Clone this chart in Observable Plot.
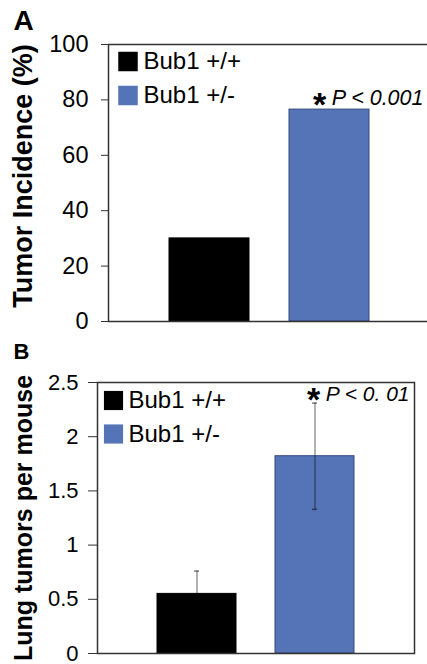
<!DOCTYPE html>
<html><head><meta charset="utf-8">
<script src="https://cdn.jsdelivr.net/npm/d3@7"></script>
<script src="https://cdn.jsdelivr.net/npm/@observablehq/plot@0.6"></script>
<style>
body{margin:0;background:#fff;}
#chart{width:427px;height:664px;overflow:hidden;}
#chart svg{display:block;}
</style></head><body><div id="chart"></div>
<script>
const genotypes = ["Bub1 +/+", "Bub1 +/-"];
const barColors = ["#000000", "#5573b7"];
const barStrokes = ["#000000", "#34487e"];
const tumorIncidence = [30, 76.5];
const lungTumors = [0.55, 1.82];
const lungTumorsErr = [0.21, 0.49];
const incidenceTicks = [0, 20, 40, 60, 80, 100];
const lungTicks = [0, 0.5, 1, 1.5, 2, 2.5];
const panelLabels = ["A", "B"];
const yLabels = ["Tumor Incidence (%)", "Lung tumors per mouse"];
const pValues = ["P < 0.001", "P < 0. 01"];

const font = "'Liberation Sans', Arial, sans-serif";
const ink = "#333";

function panel(cfg) {
  const data = genotypes.map((g, i) => ({
    genotype: g, value: cfg.values[i], err: cfg.errs ? cfg.errs[i] : 0,
    fill: barColors[i], stroke: barStrokes[i]
  }));
  const marks = [
    Plot.barY(data, {x: "genotype", y: "value", fill: "fill", stroke: "stroke", strokeWidth: 1}),
  ];
  if (cfg.errs) {
    marks.push(
      Plot.ruleX(data, {x: "genotype", y1: d => d.value - d.err, y2: d => d.value + d.err, stroke: "#000", strokeOpacity: 0.5, strokeWidth: 1.2}),
      Plot.tickY(data, {x: "genotype", y: d => d.value + d.err, insetLeft: 37, insetRight: 37, stroke: "#000", strokeOpacity: 0.5, strokeWidth: 1.5}),
      Plot.tickY(data, {x: "genotype", y: d => d.value - d.err, insetLeft: 37, insetRight: 37, stroke: "#000", strokeOpacity: 0.5, strokeWidth: 1.5})
    );
  }
  marks.push(
    Plot.frame({stroke: ink, strokeWidth: 1.5}),
    Plot.axisY({ticks: cfg.ticks, tickFormat: () => "", tickSize: cfg.tickSize, stroke: ink, label: null}),
    Plot.text(cfg.ticks, {y: d => d, frameAnchor: "left", text: d => String(d), textAnchor: "end", lineAnchor: "middle", dx: -(cfg.tickSize + cfg.tickPadding), fontSize: cfg.tickFont}),
    Plot.text([cfg.panelLabel], {frameAnchor: "top-left", text: d => d, dx: cfg.letter.dx, dy: cfg.letter.dy, lineAnchor: "top", textAnchor: "start", fontWeight: "bold", fontSize: cfg.letter.size}),
    Plot.text([cfg.yLabel], {frameAnchor: "left", text: d => d, rotate: -90, dx: cfg.ylab.dx, dy: cfg.ylab.dy, textAnchor: "middle", lineAnchor: "middle", fontWeight: "bold", fontSize: cfg.ylab.size}),
    Plot.text([cfg.pValue], {frameAnchor: "top-right", text: d => d, dx: cfg.p.dx, dy: cfg.p.dy, textAnchor: "end", lineAnchor: "bottom", fontStyle: "italic", fontSize: cfg.p.size}),
    Plot.text(["*"], {frameAnchor: "top-right", text: d => d, dx: cfg.star.dx, dy: cfg.star.dy, textAnchor: "middle", lineAnchor: "middle", fontWeight: "bold", fontSize: cfg.star.size})
  );
  genotypes.forEach((g, i) => {
    marks.push(
      Plot.dot([g], {frameAnchor: "top-left", dx: cfg.legend.sx, dy: cfg.legend.y0 + i * cfg.legend.step, symbol: "square", r: cfg.legend.r, fill: barColors[i], stroke: "none"}),
      Plot.text([g], {frameAnchor: "top-left", text: d => d, dx: cfg.legend.tx, dy: cfg.legend.y0 + i * cfg.legend.step, textAnchor: "start", lineAnchor: "middle", fontSize: cfg.legend.size})
    );
  });
  return Plot.plot({
    width: 427, height: cfg.height,
    marginTop: cfg.m[0], marginRight: cfg.m[1], marginBottom: cfg.m[2], marginLeft: cfg.m[3],
    style: {fontFamily: font, color: "#000", background: "#fff", overflow: "visible"},
    x: {domain: genotypes, axis: null, paddingInner: 0.33, paddingOuter: 0.5, align: 0.5},
    y: {domain: cfg.domain, axis: null},
    color: {type: "identity"},
    marks
  });
}

const chart = document.getElementById("chart");
chart.append(panel({
  height: 335, m: [44, -3, 14, 108],
  values: tumorIncidence, domain: [0, 100], ticks: incidenceTicks,
  tickSize: 7, tickPadding: 13, tickFont: 23.5,
  panelLabel: panelLabels[0], letter: {dx: -95, dy: -34, size: 28},
  yLabel: yLabels[0], ylab: {dx: -85, dy: -7, size: 27},
  pValue: pValues[0], p: {dx: -7, dy: 60, size: 21.5},
  star: {dx: -111, dy: 61, size: 34},
  legend: {sx: 19.5, tx: 35, y0: 17, step: 34, r: 11, size: 24}
}));
chart.append(panel({
  height: 329, m: [47, 13, 11, 97],
  values: lungTumors, errs: lungTumorsErr, domain: [0, 2.5], ticks: lungTicks,
  tickSize: 9, tickPadding: 10, tickFont: 22,
  panelLabel: panelLabels[1], letter: {dx: -84, dy: -39, size: 22},
  yLabel: yLabels[1], ylab: {dx: -74, dy: 0, size: 25},
  pValue: pValues[1], p: {dx: -5, dy: 18, size: 21},
  star: {dx: -101, dy: 18, size: 34},
  legend: {sx: 16, tx: 31, y0: 18, step: 33.5, r: 10.8, size: 24}
}));
</script></body></html>
